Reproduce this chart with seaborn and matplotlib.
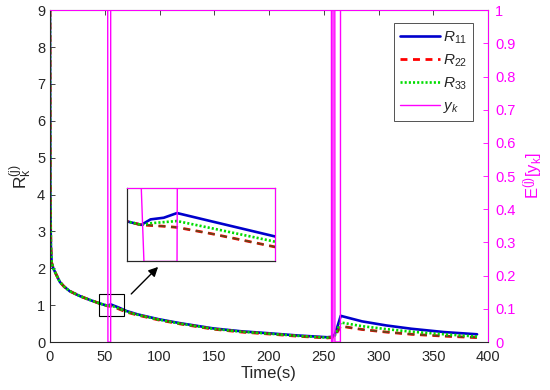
import numpy as np
import pandas as pd
import seaborn as sns
import matplotlib.pyplot as plt
from matplotlib.patches import Rectangle

sns.set_style("white")
plt.rcParams['font.family'] = ['Liberation Sans', 'DejaVu Sans']
plt.rcParams['mathtext.fontset'] = 'custom'
plt.rcParams['mathtext.rm'] = 'Liberation Sans'
plt.rcParams['mathtext.it'] = 'Liberation Sans:italic'
plt.rcParams['lines.scale_dashes'] = False

# Time axis for the R estimates
t_r = [0, 0.3, 0.8, 1.5, 3, 4.6, 7, 9, 13, 18, 27, 36.5, 45, 51.6, 52.7,
       53.4, 54.4, 55.4, 58, 62.8, 70, 80, 99, 119, 149, 175, 199, 225, 253,
       257, 260, 262.5, 265.5, 285, 307, 330, 360, 390]
r11 = [9.0, 4.0, 2.6, 2.15, 2.0, 1.9, 1.75, 1.63, 1.5, 1.38, 1.25, 1.14, 1.05, 0.99, 0.977,
       0.997, 1.003, 1.02, 0.99, 0.935, 0.84, 0.75, 0.62, 0.51, 0.37, 0.29, 0.24, 0.18, 0.13,
       0.14, 0.2, 0.42, 0.71, 0.56, 0.45, 0.36, 0.27, 0.21]
r22 = [9.0, 4.0, 2.6, 2.15, 2.0, 1.9, 1.75, 1.63, 1.5, 1.38, 1.25, 1.14, 1.05, 0.99, 0.977,
       0.975, 0.972, 0.968, 0.945, 0.897, 0.81, 0.73, 0.60, 0.49, 0.35, 0.27, 0.22, 0.16, 0.11,
       0.12, 0.15, 0.28, 0.43, 0.34, 0.27, 0.21, 0.16, 0.12]
r33 = [9.0, 4.0, 2.6, 2.15, 2.0, 1.9, 1.75, 1.63, 1.5, 1.38, 1.25, 1.14, 1.05, 0.99, 0.977,
       0.983, 0.987, 0.991, 0.965, 0.916, 0.825, 0.74, 0.61, 0.50, 0.36, 0.28, 0.23, 0.17, 0.12,
       0.13, 0.17, 0.34, 0.53, 0.43, 0.35, 0.28, 0.21, 0.15]

# Measurement arrival indicator y_k
t_y = [0, 52.7, 52.9, 55.4, 55.42, 257.0, 257.1, 258.4, 258.5, 260.1, 260.2, 265.2, 265.3, 400]
y_k = [1, 1, 0, 0, 1, 1, 0, 0, 1, 1, 0, 0, 1, 1]

x_ticks = [0, 50, 100, 150, 200, 250, 300, 350, 400]
left_ticks = [0, 1, 2, 3, 4, 5, 6, 7, 8, 9]
right_ticks = [0, 0.1, 0.2, 0.3, 0.4, 0.5, 0.6, 0.7, 0.8, 0.9, 1]
right_labels = ['0', '0.1', '0.2', '0.3', '0.4', '0.5', '0.6', '0.7', '0.8', '0.9', '1']

mag = '#FF00FF'
txt = '#262626'
dash = (0, (5, 4))
dot = (0, (1.5, 1.5))


def draw_r(a):
    sns.lineplot(x=t_r, y=r11, ax=a, color='#0000CC', lw=1.9, label=r'$\mathit{R_{11}}$')
    sns.lineplot(x=t_r, y=r22, ax=a, color='#FF0000', lw=2.0, linestyle=dash, label=r'$\mathit{R_{22}}$')
    sns.lineplot(x=t_r, y=r22, ax=a, color='#5c4a1a', lw=1.2, linestyle=dash, legend=False)
    sns.lineplot(x=t_r, y=r33, ax=a, color='#00DD00', lw=1.9, linestyle=dot, label=r'$\mathit{R_{33}}$')


fig = plt.figure(figsize=(5.5, 3.9), dpi=100)
ax = fig.add_axes([0.0909, 0.123, 0.7964, 0.851])
draw_r(ax)
ax.set_xlim(0, 400)
ax.set_ylim(0, 9)
ax.set_xticks(x_ticks)
ax.set_yticks(left_ticks)
ax.tick_params(direction='in', length=3.5, width=0.6, labelsize=10.5, colors=txt, top=True,
               labelcolor=txt)
ax.tick_params(axis='x', pad=6)
ax.set_xlabel('Time(s)', fontsize=12, color=txt, labelpad=1)
ax.set_ylabel(r'$\mathregular{R_k^{(j)}}$', fontsize=12.5, color=txt, labelpad=2)

# zoom box and arrow
ax.add_patch(Rectangle((44.7, 0.70), 23.2, 0.59, fill=False, ec='black', lw=0.8, zorder=5))
ax.annotate('', xy=(100.5, 2.09), xytext=(72.4, 1.25),
            arrowprops=dict(arrowstyle='-|>', color='black', lw=1, mutation_scale=14))

ax2 = ax.twinx()
sns.lineplot(x=t_y, y=y_k, ax=ax2, color=mag, lw=1.0, label=r'$\mathit{y_k}$')
ax2.set_ylim(0, 1)
ax2.set_yticks(right_ticks)
ax2.set_yticklabels(right_labels)
ax2.tick_params(axis='y', direction='in', length=3.5, width=0.6, labelsize=10.5, colors=mag, pad=5)
ax2.set_ylabel(r'$\mathregular{E^{(j)}[y_k]}$', fontsize=12, color=mag, labelpad=4)
for side in ['top', 'right']:
    ax2.spines[side].set_color(mag)
for side in ['left', 'bottom']:
    ax2.spines[side].set_color(txt)
for s in ax2.spines.values():
    s.set_linewidth(0.7)

h1, l1 = ax.get_legend_handles_labels()
h2, l2 = ax2.get_legend_handles_labels()
ax.get_legend().remove()
leg = ax2.legend(h1 + h2, l1 + l2, loc='upper right', bbox_to_anchor=(0.966, 0.961),
                 borderaxespad=0, fontsize=11, handlelength=2.6, labelspacing=0.45,
                 handletextpad=0.2, borderpad=0.4, frameon=True, fancybox=False)
leg.get_frame().set_edgecolor(txt)
leg.get_frame().set_linewidth(0.7)

# inset
ins = fig.add_axes([0.2304, 0.3295, 0.2696, 0.1877])
draw_r(ins)
ins.get_legend().remove()
ins.set_xlim(51.6, 62.8)
ins.set_ylim(0.844, 1.11)
ins.set_xticks([])
ins.set_yticks([])
ins.set_xlabel('')
ins.set_ylabel('')
ins2 = ins.twinx()
sns.lineplot(x=t_y, y=y_k, ax=ins2, color=mag, lw=1.0, legend=False)
ins2.set_ylim(0, 1)
ins2.set_yticks([])
ins2.set_ylabel('')
for side in ['top', 'right']:
    ins2.spines[side].set_color(mag)
for side in ['left', 'bottom']:
    ins2.spines[side].set_color(txt)

fig.savefig('out.png', dpi=100)
